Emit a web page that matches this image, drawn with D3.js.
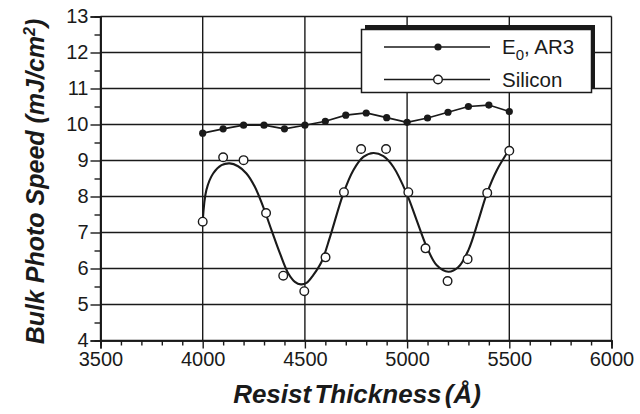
<!DOCTYPE html>
<html><head><meta charset="utf-8">
<script src="https://cdn.jsdelivr.net/npm/d3@7"></script>
<style>body{margin:0;background:#fff}svg{display:block}text{font-family:"Liberation Sans",Arial,sans-serif;fill:#1a1a1a}</style>
</head><body>
<svg id="c" width="640" height="414"></svg>
<script>
// Data
const e0Thickness = [4000,4100,4200,4300,4400,4500,4600,4700,4800,4900,5000,5100,5200,5300,5400,5500];
const e0Speed     = [9.76,9.88,9.98,9.98,9.88,9.98,10.09,10.26,10.32,10.19,10.06,10.18,10.34,10.50,10.54,10.36];
const siThickness = [4000,4100,4200,4310,4394,4497,4601,4691,4775,4897,5006,5090,5198,5296,5392,5500];
const siSpeed     = [7.30,9.09,9.01,7.54,5.80,5.37,6.31,8.12,9.32,9.32,8.12,6.56,5.65,6.26,8.10,9.27];
const fitThickness = [4000,4018,4051,4092,4132,4173,4214,4255,4296,4337,4378,4419,4451,4480,4508,4540,4581,4623,4688,4737,4786,4835,4884,4933,4998,5047,5096,5145,5202,5251,5300,5349,5390,5439,5496];
const fitSpeed     = [7.30,8.18,8.64,8.87,8.92,8.84,8.64,8.27,7.71,7.06,6.42,5.86,5.63,5.56,5.60,5.81,6.18,6.88,8.08,8.73,9.10,9.21,9.12,8.82,8.08,7.34,6.60,6.09,5.91,6.04,6.51,7.34,8.08,8.73,9.27];
const xTicks = [3500,4000,4500,5000,5500,6000];
const yTicks = [4,5,6,7,8,9,10,11,12,13];
const legendLabels = ["E0, AR3","Silicon"];

const svg = d3.select("#c");
const x = d3.scaleLinear().domain([3500,6000]).range([100.5,611.5]);
const y = d3.scaleLinear().domain([4,13]).range([340.5,16.5]);
const ink = "#1a1a1a";
const font = "'Liberation Sans',Arial,sans-serif";

// gridlines
svg.append("g").selectAll("line").data(xTicks).join("line")
  .attr("x1",d=>x(d)).attr("x2",d=>x(d)).attr("y1",y(4)).attr("y2",y(13))
  .attr("stroke",ink).attr("stroke-width",1.4);
svg.append("g").selectAll("line").data(yTicks).join("line")
  .attr("x1",x(3500)).attr("x2",x(6000)).attr("y1",d=>y(d)).attr("y2",d=>y(d))
  .attr("stroke",ink).attr("stroke-width",1.4);

// axes
const xMinor = d3.range(3500,6001,100).filter(v=>v%500!==0);
const yMinor = d3.range(4.5,13,1);
const xAxis = svg.append("g").attr("transform",`translate(0,${y(4)})`)
  .call(d3.axisBottom(x).tickValues(xTicks).tickSize(8).tickPadding(3).tickFormat(d3.format("d")));
const xAxisMinor = svg.append("g").attr("transform",`translate(0,${y(4)})`)
  .call(d3.axisBottom(x).tickValues(xMinor).tickSize(5).tickFormat(""));
const yAxis = svg.append("g").attr("transform",`translate(${x(3500)},0)`)
  .call(d3.axisLeft(y).tickValues(yTicks).tickSize(10).tickPadding(2).tickFormat(d3.format("d")));
const yAxisMinor = svg.append("g").attr("transform",`translate(${x(3500)},0)`)
  .call(d3.axisLeft(y).tickValues(yMinor).tickSize(6).tickFormat(""));
[xAxis,xAxisMinor,yAxis,yAxisMinor].forEach(g=>{
  g.select(".domain").attr("stroke",ink).attr("stroke-width",1.6);
  g.selectAll(".tick line").attr("stroke",ink).attr("stroke-width",1.4);
  g.selectAll(".tick text").attr("font-size",20).attr("fill",ink).style("font-family",font);
});
yAxis.selectAll(".tick text").attr("dy","0.3em");

// E0 line + markers
svg.append("path").datum(e0Thickness.map((t,i)=>[t,e0Speed[i]]))
  .attr("fill","none").attr("stroke",ink).attr("stroke-width",1.7)
  .attr("d",d3.line().x(d=>x(d[0])).y(d=>y(d[1])));
svg.append("g").selectAll("circle").data(e0Thickness.map((t,i)=>[t,e0Speed[i]])).join("circle")
  .attr("cx",d=>x(d[0])).attr("cy",d=>y(d[1])).attr("r",3.6).attr("fill",ink);

// Silicon fit curve
svg.append("path").datum(fitThickness.map((t,i)=>[t,fitSpeed[i]]))
  .attr("fill","none").attr("stroke",ink).attr("stroke-width",2.1)
  .attr("d",d3.line().curve(d3.curveCatmullRom).x(d=>x(d[0])).y(d=>y(d[1])));
svg.append("g").selectAll("circle").data(siThickness.map((t,i)=>[t,siSpeed[i]])).join("circle")
  .attr("cx",d=>x(d[0])).attr("cy",d=>y(d[1])).attr("r",4.3)
  .attr("fill","#fff").attr("stroke",ink).attr("stroke-width",1.4);

// Legend
const lg = svg.append("g");
lg.append("rect").attr("x",365).attr("y",25).attr("width",230).attr("height",63).attr("fill",ink);
lg.append("rect").attr("x",361.5).attr("y",29.5).attr("width",230).attr("height",63)
  .attr("fill","#fff").attr("stroke",ink).attr("stroke-width",1.5);
const rows = [47,79.5];
rows.forEach((ry,i)=>{
  lg.append("line").attr("x1",384).attr("x2",490).attr("y1",ry).attr("y2",ry)
    .attr("stroke",ink).attr("stroke-width",1.7);
  const c = lg.append("circle").attr("cx",438).attr("cy",ry);
  if(i===0) c.attr("r",3.6).attr("fill",ink);
  else c.attr("r",4.3).attr("fill","#fff").attr("stroke",ink).attr("stroke-width",1.4);
});
const t0 = lg.append("text").attr("x",502).attr("y",54).attr("font-size",20.5);
t0.append("tspan").text("E");
t0.append("tspan").attr("dy",6).attr("font-size",15).text("0");
t0.append("tspan").attr("dy",-6).text(", AR3");
lg.append("text").attr("x",502).attr("y",86.5).attr("font-size",20.5).text(legendLabels[1]);

// Axis titles
svg.append("text").attr("x",357).attr("y",403).attr("text-anchor","middle")
  .attr("font-size",26).attr("font-weight","bold").attr("font-style","italic")
  .attr("word-spacing",-4).text("Resist Thickness (Å)");
const yt = svg.append("text").attr("transform","translate(43.5,181.5) rotate(-90)")
  .attr("text-anchor","middle").attr("font-size",25).attr("font-weight","bold").attr("font-style","italic");
yt.append("tspan").text("Bulk Photo Speed (mJ/cm");
yt.append("tspan").attr("dy",-9).attr("font-size",16).text("2");
yt.append("tspan").attr("dy",9).text(")");
</script>
</body></html>
